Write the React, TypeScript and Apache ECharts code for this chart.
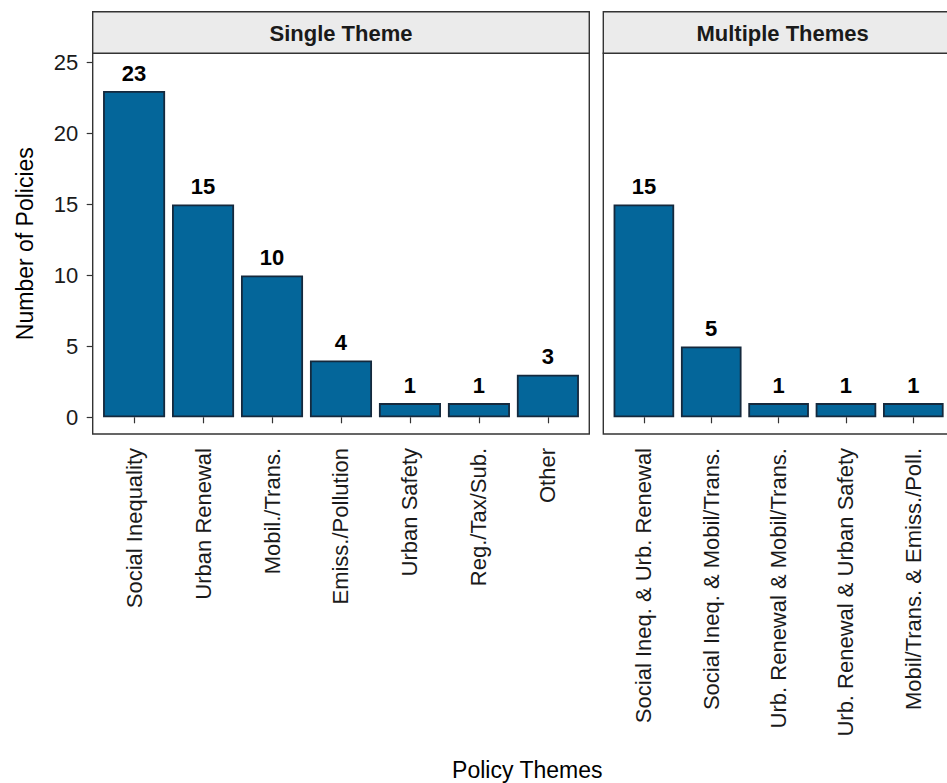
import React, { useEffect, useRef } from "react";
import * as echarts from "echarts";

const singleCats = ["Social Inequality", "Urban Renewal", "Mobil./Trans.", "Emiss./Pollution", "Urban Safety", "Reg./Tax/Sub.", "Other"];
const singleVals = [23, 15, 10, 4, 1, 1, 3];
const multiCats = ["Social Ineq. & Urb. Renewal", "Social Ineq. & Mobil/Trans.", "Urb. Renewal & Mobil/Trans.", "Urb. Renewal & Urban Safety", "Mobil/Trans. & Emiss./Poll."];
const multiVals = [15, 5, 1, 1, 1];
const facetTitles = ["Single Theme", "Multiple Themes"];
const yMin = 0;
const yMax = 25;
const yStep = 5;

const FONT = "'Liberation Sans', Arial, Helvetica, sans-serif";

export default function App() {
  const ref = useRef<HTMLDivElement>(null);
  useEffect(() => {
    if (!ref.current) return;
    const chart = echarts.init(ref.current, undefined, { renderer: "svg" });

    // layout (pixels)
    const stripTop = 11.7;
    const panelTop = 53.3;
    const panelBottom = 434;
    const yTop = 62.7; // value 25
    const yZero = 417.3; // value 0
    const band = 68.97;
    const p1x0 = 92.7;
    const p1x1 = p1x0 + band * (singleCats.length + 0.2);
    const p2x0 = 603.3;
    const p2x1 = p2x0 + band * (multiCats.length + 0.2);
    const inset = band * 0.1;

    const barColor = "#04669A";
    const barBorder = "#15293D";
    const frame = "#333333";

    const makeX = (gi: number, data: string[]) => ({
      type: "category",
      gridIndex: gi,
      data,
      offset: panelBottom - yZero,
      axisLine: { show: false },
      axisTick: { show: true, alignWithLabel: true, length: 6, lineStyle: { color: frame, width: 1.2 } },
      axisLabel: { rotate: 90, margin: 14, fontSize: 22, color: "#1a1a1a", fontFamily: FONT, interval: 0 },
    });
    const makeY = (gi: number, showLabels: boolean) => ({
      type: "value",
      gridIndex: gi,
      min: yMin,
      max: yMax,
      interval: yStep,
      offset: inset,
      splitLine: { show: false },
      axisLine: { show: false },
      axisTick: { show: showLabels, length: 6, lineStyle: { color: frame, width: 1.2 } },
      axisLabel: { show: showLabels, margin: 14.4, fontSize: 22, color: "#1a1a1a", fontFamily: FONT },
    });
    const makeSeries = (gi: number, vals: number[]) => ({
      type: "bar",
      xAxisIndex: gi,
      yAxisIndex: gi,
      data: vals,
      barWidth: "90%",
      itemStyle: { color: barColor, borderColor: barBorder, borderWidth: 1.8 },
      label: { show: true, position: "top", distance: 7, fontSize: 22, fontWeight: "bold", color: "#000", fontFamily: FONT },
    });

    const panelRect = (x0: number, x1: number) => ({
      type: "rect",
      z: 10,
      shape: { x: x0, y: panelTop, width: x1 - x0, height: panelBottom - panelTop },
      style: { fill: "none", stroke: frame, lineWidth: 1.4 },
    });
    const stripRect = (x0: number, x1: number) => ({
      type: "rect",
      z: 10,
      shape: { x: x0, y: stripTop, width: x1 - x0, height: panelTop - stripTop },
      style: { fill: "#EBEBEB", stroke: frame, lineWidth: 1.4 },
    });
    const stripText = (x0: number, x1: number, t: string) => ({
      type: "text",
      z: 11,
      x: (x0 + x1) / 2,
      y: (stripTop + panelTop) / 2 + 1,
      style: { text: t, fontSize: 22, fontWeight: "bold", fill: "#1a1a1a", fontFamily: FONT, align: "center", verticalAlign: "middle" },
    });

    chart.setOption({
      animation: false,
      backgroundColor: "#ffffff",
      grid: [
        { left: p1x0 + inset, width: band * singleCats.length, top: yTop, height: yZero - yTop },
        { left: p2x0 + inset, width: band * multiCats.length, top: yTop, height: yZero - yTop },
      ],
      xAxis: [makeX(0, singleCats), makeX(1, multiCats)],
      yAxis: [makeY(0, true), makeY(1, false)],
      series: [makeSeries(0, singleVals), makeSeries(1, multiVals)],
      graphic: [
        panelRect(p1x0, p1x1),
        panelRect(p2x0, p2x1),
        stripRect(p1x0, p1x1),
        stripRect(p2x0, p2x1),
        stripText(p1x0, p1x1, facetTitles[0]),
        stripText(p2x0, p2x1, facetTitles[1]),
        {
          type: "text",
          x: 25,
          y: (panelTop + panelBottom) / 2,
          rotation: Math.PI / 2,
          style: { text: "Number of Policies", fontSize: 23, fill: "#000", fontFamily: FONT, align: "center", verticalAlign: "middle" },
        },
        {
          type: "text",
          x: (p1x0 + p2x1) / 2,
          y: 770,
          style: { text: "Policy Themes", fontSize: 23, fill: "#000", fontFamily: FONT, align: "center", verticalAlign: "middle" },
        },
      ],
    });
    return () => chart.dispose();
  }, []);
  return (
    <div
      ref={ref}
      style={{ position: "fixed", left: 0, top: 0, width: 947, height: 783, overflow: "hidden", background: "#fff" }}
    />
  );
}
